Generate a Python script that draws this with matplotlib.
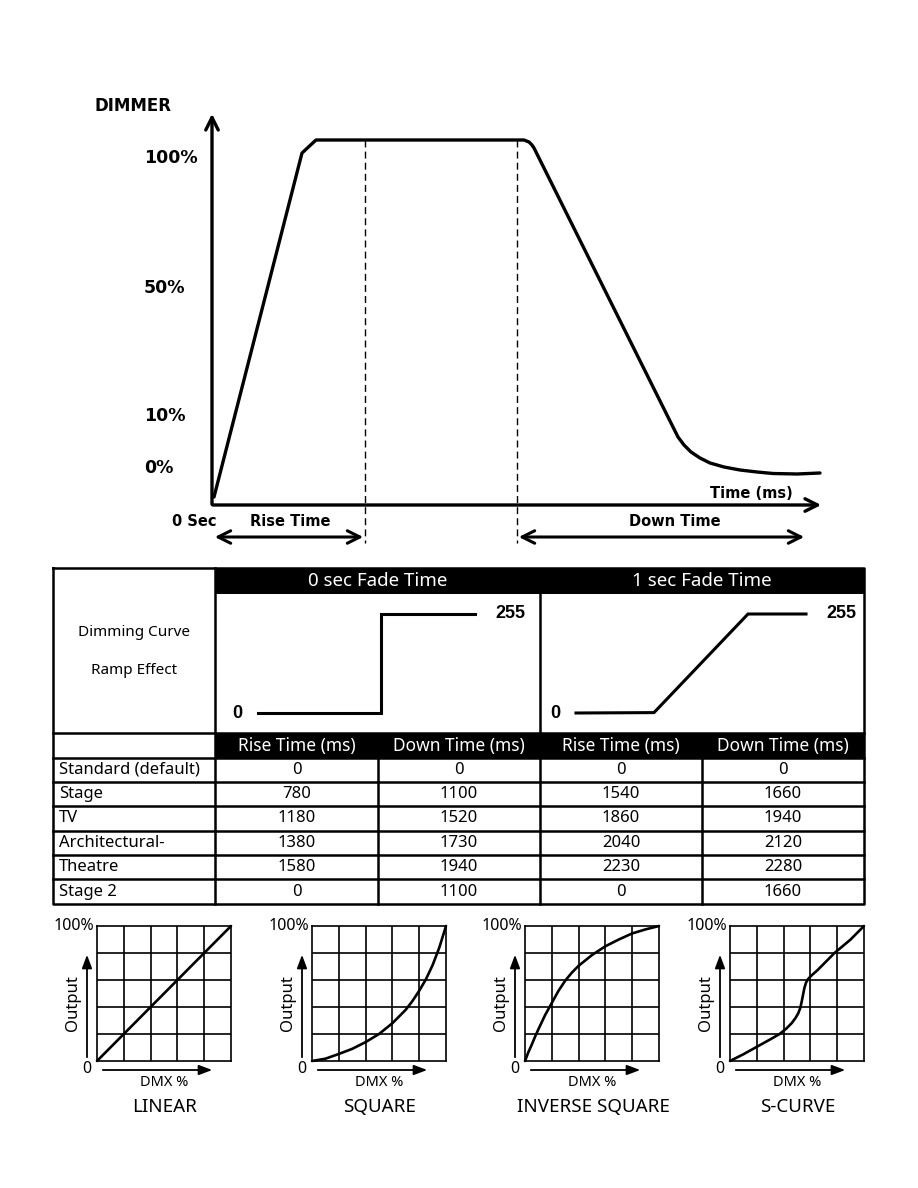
import matplotlib
matplotlib.use("Agg")
import matplotlib.pyplot as plt
from matplotlib.patches import Rectangle

W, H = 918, 1188

# ---------------- data ----------------
# dimmer response curve (schematic units: time, level)
dimmer_time = [2, 90, 104, 305, 312, 317, 320, 322, 324, 456, 461, 466, 472, 479, 488,
               498, 512, 528, 545, 561, 585, 608]
dimmer_level = [8, 352, 365, 365, 365, 363, 360, 357, 353, 88, 78, 68, 60, 53, 47,
                42, 38, 35, 33, 31.5, 31, 32]
rise_end = 153
down_start = 305
level_labels = ["100%", "50%", "10%", "0%"]
level_label_pos = [347, 217, 89, 37]

# ramp effect panels
ramp0_time = [0, 123, 123, 217]
ramp0_value = [0, 0, 255, 255]
ramp1_time = [0, 78, 172, 230]
ramp1_value = [0, 1, 255, 255]

# table
fade_headers = ["0 sec Fade Time", "1 sec Fade Time"]
col_headers = ["Rise Time (ms)", "Down Time (ms)", "Rise Time (ms)", "Down Time (ms)"]
modes = ["Standard (default)", "Stage", "TV", "Architectural-", "Theatre", "Stage 2"]
rise_0s = [0, 780, 1180, 1380, 1580, 0]
down_0s = [0, 1100, 1520, 1730, 1940, 1100]
rise_1s = [0, 1540, 1860, 2040, 2230, 0]
down_1s = [0, 1660, 1940, 2120, 2280, 1660]

# dimming curves (DMX fraction -> output fraction)
curve_names = ["LINEAR", "SQUARE", "INVERSE SQUARE", "S-CURVE"]
linear_x = [0, 1]
linear_y = [0, 1]
square_x = [0, 0.1, 0.2, 0.3, 0.4, 0.5, 0.6, 0.7, 0.75, 0.8, 0.85, 0.9, 0.95, 1.0]
square_y = [0, 0.017, 0.052, 0.09, 0.14, 0.2, 0.28, 0.38, 0.445, 0.52, 0.605, 0.71, 0.84, 1.0]
invsq_x = [0, 0.025, 0.05, 0.075, 0.1, 0.15, 0.2, 0.25, 0.3, 0.35, 0.4, 0.5, 0.6, 0.7, 0.8, 0.9, 1.0]
invsq_y = [0, 0.065, 0.12, 0.18, 0.235, 0.34, 0.43, 0.52, 0.595, 0.655, 0.705, 0.785, 0.85, 0.9, 0.945, 0.975, 1.0]
scurve_x = [0, 0.1, 0.2, 0.3, 0.37, 0.42, 0.46, 0.49, 0.51, 0.525, 0.535, 0.545, 0.555, 0.567,
            0.585, 0.61, 0.65, 0.7, 0.78, 0.9, 1.0]
scurve_y = [0, 0.05, 0.105, 0.16, 0.2, 0.24, 0.28, 0.32, 0.355, 0.395, 0.44, 0.49, 0.54, 0.58,
            0.61, 0.635, 0.67, 0.72, 0.8, 0.9, 1.0]

# ---------------- figure ----------------
fig = plt.figure(figsize=(W / 100, H / 100), dpi=100)
fig.patch.set_facecolor("white")

ax0 = fig.add_axes([0, 0, 1, 1])
ax0.set_xlim(0, W)
ax0.set_ylim(H, 0)
ax0.axis("off")


def px_axes(x0, y0, x1, y1):
    a = fig.add_axes([x0 / W, 1 - y1 / H, (x1 - x0) / W, (y1 - y0) / H])
    a.set_facecolor("none")
    return a


BOLD = dict(family="DejaVu Sans", fontweight="bold")
LIGHT = ["Noto Sans", "DejaVu Sans"]

# ---------------- top chart ----------------
axd = px_axes(212, 113, 822, 505)
axd.set_xlim(0, 610)
axd.set_ylim(0, 392)
axd.axis("off")
axd.plot(dimmer_time, dimmer_level, color="black", lw=2.4, solid_joinstyle="round",
         solid_capstyle="round")
for t in (rise_end, down_start):
    axd.plot([t, t], [365, -38], color="black", lw=1.0, ls=(0, (5, 3)), clip_on=False)

# axes arrows
ax0.annotate("", xy=(212, 111), xytext=(212, 507),
             arrowprops=dict(arrowstyle="->,head_length=0.9,head_width=0.45", lw=2.4, color="black"))
ax0.annotate("", xy=(824, 505), xytext=(210, 505),
             arrowprops=dict(arrowstyle="->,head_length=0.9,head_width=0.45", lw=2.4, color="black"))
# span arrows
ax0.annotate("", xy=(212, 537), xytext=(366, 537),
             arrowprops=dict(arrowstyle="<->,head_length=0.9,head_width=0.45", lw=2.2, color="black"))
ax0.annotate("", xy=(516, 537), xytext=(807, 537),
             arrowprops=dict(arrowstyle="<->,head_length=0.9,head_width=0.45", lw=2.2, color="black"))

for lab, lv in zip(level_labels, level_label_pos):
    axd.text(-68, lv, lab, ha="left", va="center", fontsize=12.5, clip_on=False, **BOLD)
ax0.text(95, 106, "DIMMER", ha="left", va="center", fontsize=12, **BOLD)
ax0.text(172, 522, "0 Sec", ha="left", va="center", fontsize=10.5, **BOLD)
ax0.text(290, 522, "Rise Time", ha="center", va="center", fontsize=10.5, **BOLD)
ax0.text(675, 522, "Down Time", ha="center", va="center", fontsize=10.5, **BOLD)
ax0.text(751, 493, "Time (ms)", ha="center", va="center", fontsize=10.5, **BOLD)

# ---------------- table ----------------
tx = [53, 215, 378, 540, 702, 864]
ty_top, ty_h1, ty_ramp, ty_h2 = 568, 594, 733, 758
row_y = [758, 782, 806, 831, 855, 879, 904]

ax0.add_patch(Rectangle((tx[1], ty_top), tx[5] - tx[1], ty_h1 - ty_top, color="black", lw=0))
ax0.add_patch(Rectangle((tx[1], ty_ramp), tx[5] - tx[1], ty_h2 - ty_ramp, color="black", lw=0))
lk = dict(color="black", lw=1.8, solid_capstyle="projecting")
ax0.plot([tx[0], tx[5], tx[5], tx[0], tx[0]], [ty_top, ty_top, row_y[-1], row_y[-1], ty_top], **lk)
ax0.plot([tx[1], tx[1]], [ty_top, row_y[-1]], **lk)
ax0.plot([tx[3], tx[3]], [ty_h1, ty_ramp], **lk)
ax0.plot([tx[0], tx[5]], [ty_ramp, ty_ramp], **lk)
for y in row_y[:-1]:
    ax0.plot([tx[0], tx[5]], [y, y], **lk)
for x in (tx[2], tx[3], tx[4]):
    ax0.plot([x, x], [ty_h2, row_y[-1]], **lk)

ax0.text((tx[1] + tx[3]) / 2, 581, fade_headers[0], ha="center", va="center",
         color="white", fontsize=13.5, family=LIGHT)
ax0.text((tx[3] + tx[5]) / 2, 581, fade_headers[1], ha="center", va="center",
         color="white", fontsize=13.5, family=LIGHT)
ax0.text(134, 633, "Dimming Curve", ha="center", va="center", fontsize=11, family=LIGHT)
ax0.text(134, 670, "Ramp Effect", ha="center", va="center", fontsize=11, family=LIGHT)
for i, h in enumerate(col_headers):
    ax0.text((tx[i + 1] + tx[i + 2]) / 2, 746, h, ha="center", va="center",
             color="white", fontsize=12.5, family=LIGHT)
cols = [rise_0s, down_0s, rise_1s, down_1s]
for r, m in enumerate(modes):
    yc = (row_y[r] + row_y[r + 1]) / 2
    ax0.text(59, yc, m, ha="left", va="center", fontsize=12, family=LIGHT)
    for c, vals in enumerate(cols):
        ax0.text((tx[c + 1] + tx[c + 2]) / 2, yc, str(vals[r]), ha="center", va="center",
                 fontsize=12, family=LIGHT)

# ramp panels
for (x0, x1, tt, vv) in ((258, 475, ramp0_time, ramp0_value), (576, 806, ramp1_time, ramp1_value)):
    ar = px_axes(x0, 614, x1, 713)
    ar.set_xlim(0, tt[-1])
    ar.set_ylim(0, 255)
    ar.axis("off")
    ar.plot(tt, vv, color="black", lw=2.2, clip_on=False, solid_joinstyle="miter")
    ar.text(-16 * tt[-1] / (x1 - x0), 0, "0", ha="right", va="center", fontsize=13,
            fontweight="bold", family="Liberation Sans", clip_on=False)
    ar.text(tt[-1] + 20 * tt[-1] / (x1 - x0), 255, "255", ha="left", va="center",
            fontsize=13, fontweight="bold", family="Liberation Sans", clip_on=False)

# ---------------- dimming curves ----------------
grid_left = [97, 312, 525, 730]
curves = [(linear_x, linear_y), (square_x, square_y), (invsq_x, invsq_y), (scurve_x, scurve_y)]
for gl, name, (cx, cy) in zip(grid_left, curve_names, curves):
    ac = px_axes(gl, 926, gl + 134, 1061)
    ac.set_xlim(0, 1)
    ac.set_ylim(0, 1)
    ac.set_xticks([0.2, 0.4, 0.6, 0.8])
    ac.set_yticks([0.2, 0.4, 0.6, 0.8])
    ac.tick_params(length=0, labelbottom=False, labelleft=False)
    ac.grid(True, color="black", lw=1.2)
    for s in ac.spines.values():
        s.set_linewidth(1.2)
    ac.plot(cx, cy, color="black", lw=1.9, clip_on=False, solid_capstyle="round",
            solid_joinstyle="round")
    ac.text(-0.02, 1.0, "100%", ha="right", va="center", fontsize=11.5, family=LIGHT,
            transform=ac.transAxes)
    ax0.text(gl - 6, 1069, "0", ha="right", va="center", fontsize=11.5, family=LIGHT)
    ax0.annotate("", xy=(gl + 118, 1070), xytext=(gl + 3, 1070),
                 arrowprops=dict(arrowstyle="-|>,head_length=0.8,head_width=0.3", lw=1.3, color="black"))
    ax0.annotate("", xy=(gl - 10, 952), xytext=(gl - 10, 1060),
                 arrowprops=dict(arrowstyle="-|>,head_length=0.8,head_width=0.3", lw=1.3, color="black"))
    ax0.text(gl - 24, 1003, "Output", ha="center", va="center", rotation=90, fontsize=12,
             family=LIGHT)
    ax0.text(gl + 67, 1083, "DMX %", ha="center", va="center", fontsize=10.5, family=LIGHT)
    ax0.text(gl + 68, 1107, name, ha="center", va="center", fontsize=13.5, family=LIGHT)

fig.savefig("out.png", dpi=100, facecolor="white")
